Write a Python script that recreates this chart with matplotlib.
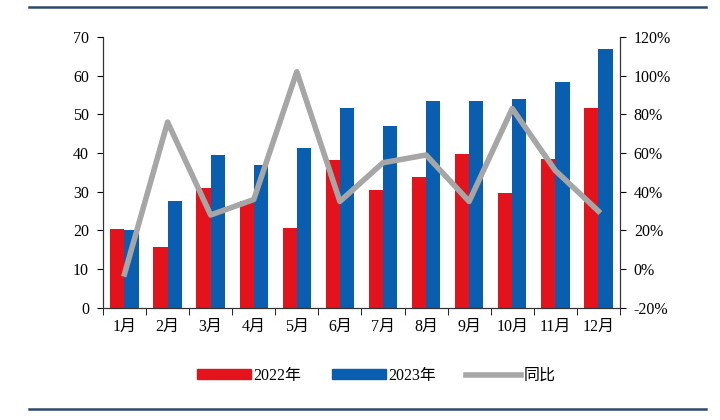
import numpy as np
import matplotlib.pyplot as plt
from matplotlib.lines import Line2D

plt.rcParams['font.family'] = ['Liberation Serif', 'Noto Sans CJK SC']

months = ['1月', '2月', '3月', '4月', '5月', '6月', '7月', '8月', '9月', '10月', '11月', '12月']
y2022 = [20.5, 15.8, 31.0, 27.5, 20.7, 38.3, 30.4, 33.8, 39.7, 29.7, 38.5, 51.6]
y2023 = [20.0, 27.6, 39.5, 36.8, 41.4, 51.6, 47.0, 53.4, 53.4, 54.0, 58.3, 66.8]
yoy = [-2.5, 76, 28, 36, 102, 35, 55, 59, 35, 83, 51, 30]  # 同比 %

fig = plt.figure(figsize=(7.2, 4.2), dpi=100)
ax = fig.add_axes([0.143, 0.267, 0.718, 0.645])
x = np.arange(len(months))
w = 0.33

ax.bar(x - w/2, y2022, w, color='#e3121b', label='2022年', zorder=2)
ax.bar(x + w/2, y2023, w, color='#0a5eb0', label='2023年', zorder=2)
ax.set_ylim(0, 70)
ax.set_yticks(range(0, 71, 10))
ax.set_xlim(-0.5, len(months) - 0.5)
ax.set_xticks(x)
ax.set_xticklabels(months, fontsize=11.5)
ax.set_xticks(np.arange(-0.5, len(months)), minor=True)
ax.tick_params(axis='x', which='major', length=0, pad=8)
ax.tick_params(axis='x', which='minor', length=5, direction='out')
ax.tick_params(axis='y', length=4, labelsize=11.5, pad=6)

ax2 = ax.twinx()
ax2.plot(x, yoy, color='#a6a6a6', lw=4, zorder=3)
ax2.set_ylim(-20, 120)
ax2.set_yticks(range(-20, 121, 20))
ax2.set_yticklabels([f'{v}%' for v in range(-20, 121, 20)])
ax2.tick_params(axis='y', length=4, labelsize=11.5, pad=6)

for a in (ax, ax2):
    a.spines['top'].set_visible(False)
    for s in a.spines.values():
        s.set_color('#333333')

handles = [
    plt.Rectangle((0, 0), 1, 1, color='#e3121b'),
    plt.Rectangle((0, 0), 1, 1, color='#0a5eb0'),
    Line2D([0], [0], color='#a6a6a6', lw=4),
]
fig.legend(handles, ['2022年', '2023年', '同比'], loc='center', bbox_to_anchor=(0.522, 0.105),
           ncol=3, frameon=False, fontsize=11.5, handlelength=3.4, handleheight=0.6,
           handletextpad=0.15, columnspacing=1.9)

fig.add_artist(Line2D([0.04, 0.98], [0.983, 0.983], color='#2e4a6b', lw=1.8))
fig.add_artist(Line2D([0.04, 0.98], [0.026, 0.026], color='#2e4a6b', lw=1.8))

fig.savefig('out.png', dpi=100)
